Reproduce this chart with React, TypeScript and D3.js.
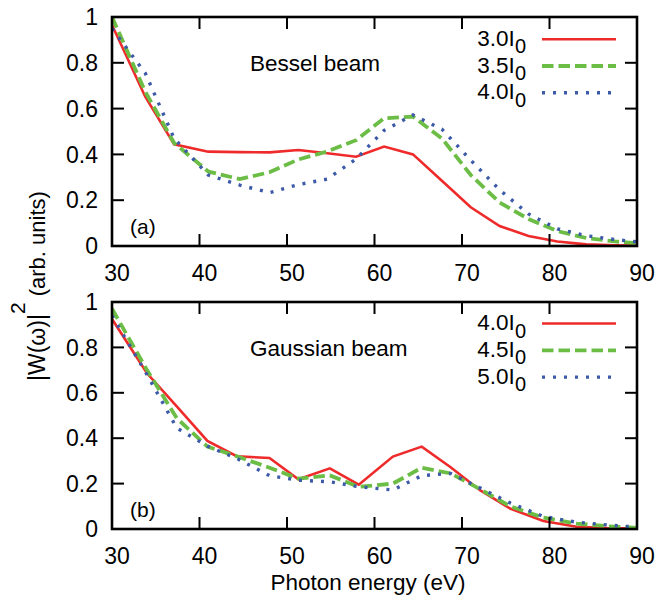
import React from "react";
import * as d3 from "d3";

// ---- data ----
const xTicks = [30, 40, 50, 60, 70, 80, 90];
const yTicks = [0, 0.2, 0.4, 0.6, 0.8, 1];

const energyBessel = [30, 33.8, 37.1, 41.0, 44.6, 48.0, 51.3, 54.6, 57.9, 61.1, 64.4, 67.7, 71.0, 74.3, 77.6, 80.9, 84.2, 87.5, 90];
const bessel30 = [0.965, 0.652, 0.444, 0.412, 0.41, 0.409, 0.419, 0.405, 0.39, 0.434, 0.4, 0.285, 0.169, 0.087, 0.044, 0.02, 0.007, 0.003, 0.002];
const bessel35 = [1.0, 0.674, 0.45, 0.325, 0.292, 0.322, 0.378, 0.413, 0.462, 0.558, 0.565, 0.47, 0.31, 0.19, 0.118, 0.065, 0.035, 0.02, 0.012];
const bessel40 = [0.95, 0.755, 0.47, 0.31, 0.266, 0.233, 0.268, 0.292, 0.38, 0.505, 0.572, 0.51, 0.375, 0.245, 0.14, 0.075, 0.045, 0.028, 0.018];

const energyGauss = [30, 34.0, 37.4, 40.9, 44.3, 48.0, 51.3, 54.9, 58.2, 62.1, 65.4, 68.7, 72.1, 75.5, 79.3, 83.1, 86.6, 90];
const gauss40 = [0.925, 0.686, 0.54, 0.388, 0.32, 0.313, 0.219, 0.267, 0.195, 0.319, 0.363, 0.272, 0.17, 0.09, 0.035, 0.01, 0.004, 0.002];
const gauss45 = [0.97, 0.7, 0.488, 0.363, 0.32, 0.27, 0.222, 0.236, 0.186, 0.2, 0.27, 0.245, 0.175, 0.1, 0.05, 0.024, 0.012, 0.005];
const gauss50 = [0.94, 0.68, 0.445, 0.365, 0.31, 0.235, 0.215, 0.208, 0.186, 0.172, 0.235, 0.245, 0.18, 0.115, 0.055, 0.03, 0.018, 0.008];

const besselLabels = ["3.0I", "3.5I", "4.0I"];
const gaussLabels = ["4.0I", "4.5I", "5.0I"];

// ---- styles ----
const FONT = "'Liberation Sans', Arial, Helvetica, sans-serif";
const styles = [
  { color: "#ee2a2a", width: 2.6, dash: "none" },
  { color: "#6cbd45", width: 3.8, dash: "11.5 5" },
  { color: "#3d5aa8", width: 3.4, dash: "3 8" },
];

const W = 656;
const H = 601;
const left = 112;
const right = 637;

type PanelProps = {
  id: string;
  top: number;
  bottom: number;
  energy: number[];
  series: number[][];
  labels: string[];
  title: string;
  tag: string;
  legendBase: number;
};

function Panel({ id, top, bottom, energy, series, labels, title, tag, legendBase }: PanelProps) {
  const x = d3.scaleLinear().domain([30, 90]).range([left, right]);
  const y = d3.scaleLinear().domain([0, 1]).range([bottom, top]);
  const tickLen = 12;
  const rowGap = 26.8;
  return (
    <g>
      <defs>
        <clipPath id={`clip-${id}`}>
          <rect x={left} y={top} width={right - left} height={bottom - top} />
        </clipPath>
      </defs>
      <g clipPath={`url(#clip-${id})`}>
        {series.map((vals, i) => {
          const line = d3
            .line<number>()
            .x((_, j) => x(energy[j]))
            .y((v) => y(v));
          const st = styles[i];
          return (
            <path
              key={i}
              d={line(vals) || ""}
              fill="none"
              stroke={st.color}
              strokeWidth={st.width}
              strokeDasharray={st.dash}
              strokeLinejoin="miter"
            />
          );
        })}
      </g>
      {/* ticks */}
      {xTicks.map((t) => (
        <g key={"xt" + t}>
          <line x1={x(t)} x2={x(t)} y1={bottom} y2={bottom - tickLen} stroke="#000" strokeWidth={2} />
          <line x1={x(t)} x2={x(t)} y1={top} y2={top + tickLen} stroke="#000" strokeWidth={2} />
          <text x={x(t) + 5} y={bottom + 35} fontSize={23} fontFamily={FONT} textAnchor="middle" fill="#000">
            {t}
          </text>
        </g>
      ))}
      {yTicks.map((t) => (
        <g key={"yt" + t}>
          <line x1={left} x2={left + tickLen} y1={y(t)} y2={y(t)} stroke="#000" strokeWidth={2} />
          <line x1={right} x2={right - tickLen} y1={y(t)} y2={y(t)} stroke="#000" strokeWidth={2} />
          <text x={98} y={y(t)} dy="0.36em" fontSize={23} fontFamily={FONT} textAnchor="end" fill="#000">
            {t}
          </text>
        </g>
      ))}
      <rect x={left} y={top} width={right - left} height={bottom - top} fill="none" stroke="#000" strokeWidth={2.6} />
      {/* title */}
      <text x={250} y={top + 54} fontSize={22.5} fontFamily={FONT} fill="#000">
        {title}
      </text>
      <text x={130} y={bottom - 12} fontSize={21} fontFamily={FONT} fill="#000">
        {tag}
      </text>
      {/* legend */}
      {labels.map((lab, i) => {
        const base = legendBase + i * rowGap;
        const st = styles[i];
        return (
          <g key={"lg" + i}>
            <text x={526} y={base} fontSize={22.5} fontFamily={FONT} textAnchor="end" fill="#000">
              {lab}
              <tspan fontSize={20} dy={7.5}>0</tspan>
            </text>
            <line
              x1={542}
              x2={616}
              y1={base - 6.5}
              y2={base - 6.5}
              stroke={st.color}
              strokeWidth={st.width}
              strokeDasharray={st.dash}
            />
          </g>
        );
      })}
    </g>
  );
}

export default function App() {
  return (
    <svg
      width={W}
      height={H}
      viewBox={`0 0 ${W} ${H}`}
      style={{ position: "absolute", left: 0, top: 0, background: "#fff" }}
    >
      <rect x={0} y={0} width={W} height={H} fill="#fff" />
      <Panel
        id="a"
        top={17}
        bottom={246}
        energy={energyBessel}
        series={[bessel30, bessel35, bessel40]}
        labels={besselLabels}
        title="Bessel beam"
        tag="(a)"
        legendBase={45.7}
      />
      <Panel
        id="b"
        top={302}
        bottom={529}
        energy={energyGauss}
        series={[gauss40, gauss45, gauss50]}
        labels={gaussLabels}
        title="Gaussian beam"
        tag="(b)"
        legendBase={330}
      />
      <text
        transform="translate(45,381) rotate(-90)"
        fontSize={23}
        fontFamily={FONT}
        fill="#000"
      >
        |W(ω)|
        <tspan fontSize={21} dy={-20}>2</tspan>
        <tspan fontSize={22} dy={20}> (arb. units)</tspan>
      </text>
      <text x={368} y={590} fontSize={22.5} fontFamily={FONT} textAnchor="middle" fill="#000">
        Photon energy (eV)
      </text>
    </svg>
  );
}
